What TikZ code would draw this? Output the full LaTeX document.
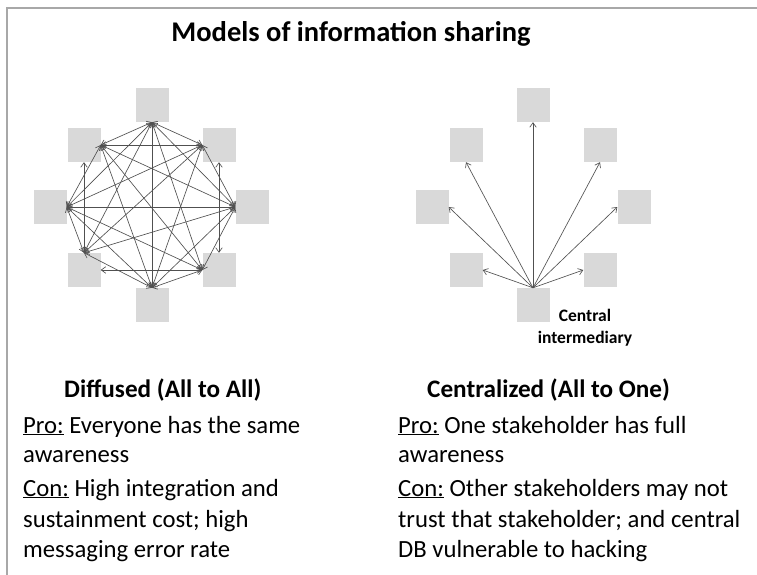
\documentclass[tikz,border=0pt]{standalone}
\usepackage{fontspec}
\setmainfont{Carlito}
\usetikzlibrary{arrows.meta}
\definecolor{sqgray}{HTML}{D9D9D9}
\definecolor{linkgray}{HTML}{505050}
\definecolor{framegray}{HTML}{A8A8A8}
\begin{document}
\begin{tikzpicture}[x=1pt,y=-1pt,
  sq/.style={fill=sqgray, draw=none, minimum width=33pt, minimum height=34pt, inner sep=0pt},
  tipb/.tip={Straight Barb[length=4.5pt,width=6.5pt]},
  link/.style={draw=linkgray, line width=0.65pt, tipb-tipb},
  ray/.style={draw=linkgray, line width=0.65pt, -tipb},
  body/.style={anchor=base west, inner sep=0pt, font=\fontsize{24.7}{28}\selectfont},
  head/.style={anchor=base west, inner sep=0pt, font=\fontsize{25.2}{28}\selectfont\bfseries},
]
\useasboundingbox (0,0) rectangle (757,575);
% frame
\draw[framegray, line width=1.4pt] (757,8) -- (7,8) -- (7,575);

% title
\node[anchor=base, inner sep=0pt, font=\fontsize{28.5}{32}\selectfont\bfseries] (title) at (351,42) {Models of information sharing};

% ---------- left diagram (diffused) ----------
\node[sq] (T)  at (152,105) {};
\node[sq] (UL) at (84,145) {};
\node[sq] (UR) at (219,145) {};
\node[sq] (L)  at (50,207) {};
\node[sq] (R)  at (252,207) {};
\node[sq] (LL) at (84,270) {};
\node[sq] (LR) at (219,270) {};
\node[sq] (B)  at (152,305) {};

% from top
\foreach \p in {UL.east, UR.west, L.east, R.west, LL.north, LR.west, B.north}
  \draw[link] (T.south) -- (\p);
% from upper left
\foreach \p in {UR.west, L.east, R.west, LR.west, B.north}
  \draw[link] (UL.east) -- (\p);
\draw[link] (UL.south) -- (LL.north);
% from upper right
\foreach \p in {L.east, R.west, LL.north, B.north}
  \draw[link] (UR.west) -- (\p);
\draw[link] (UR.south) -- (LR.north);
% from left
\foreach \p in {R.west, LL.north, LR.west, B.north}
  \draw[link] (L.east) -- (\p);
% from right
\foreach \p in {LL.north, LR.west, B.north}
  \draw[link] (R.west) -- (\p);
% lower ones
\draw[link] (LL.east) -- (LR.west);
\draw[link] (LL.north) -- (B.north);
\draw[link] (LR.west) -- (B.north);

% ---------- right diagram (centralized) ----------
\node[sq] (T2)  at (533,105) {};
\node[sq] (UL2) at (466,145) {};
\node[sq] (UR2) at (600,145) {};
\node[sq] (L2)  at (432,207) {};
\node[sq] (R2)  at (634,207) {};
\node[sq] (LL2) at (466,270) {};
\node[sq] (LR2) at (600,270) {};
\node[sq] (B2)  at (533,305) {};
\foreach \p in {T2.south, UL2.south, UR2.south, L2.east, R2.west, LL2.east, LR2.west}
  \draw[ray] (B2.north) -- (\p);

\node[anchor=north, inner sep=0pt, align=center,
      font=\fontsize{17.5}{22}\selectfont\bfseries] (ci) at (585,309) {Central\\intermediary};

% ---------- texts ----------
\node[head] (h1) at (64,397) {Diffused (All to All)};
\node[body] (p1a) at (23,433) {\underline{Pro:} Everyone has the same};
\node[body] (p1b) at (23,462) {awareness};
\node[body] (c1a) at (23,496) {\underline{Con:} High integration and};
\node[body] (c1b) at (23,527) {sustainment cost; high};
\node[body] (c1c) at (23,557) {messaging error rate};

\node[head] (h2) at (427,397) {Centralized (All to One)};
\node[body] (p2a) at (398,433) {\underline{Pro:} One stakeholder has full};
\node[body] (p2b) at (398,462) {awareness};
\node[body] (c2a) at (398,496) {\underline{Con:} Other stakeholders may not};
\node[body] (c2b) at (398,527) {trust that stakeholder; and central};
\node[body] (c2c) at (398,557) {DB vulnerable to hacking};
\end{tikzpicture}
\end{document}
